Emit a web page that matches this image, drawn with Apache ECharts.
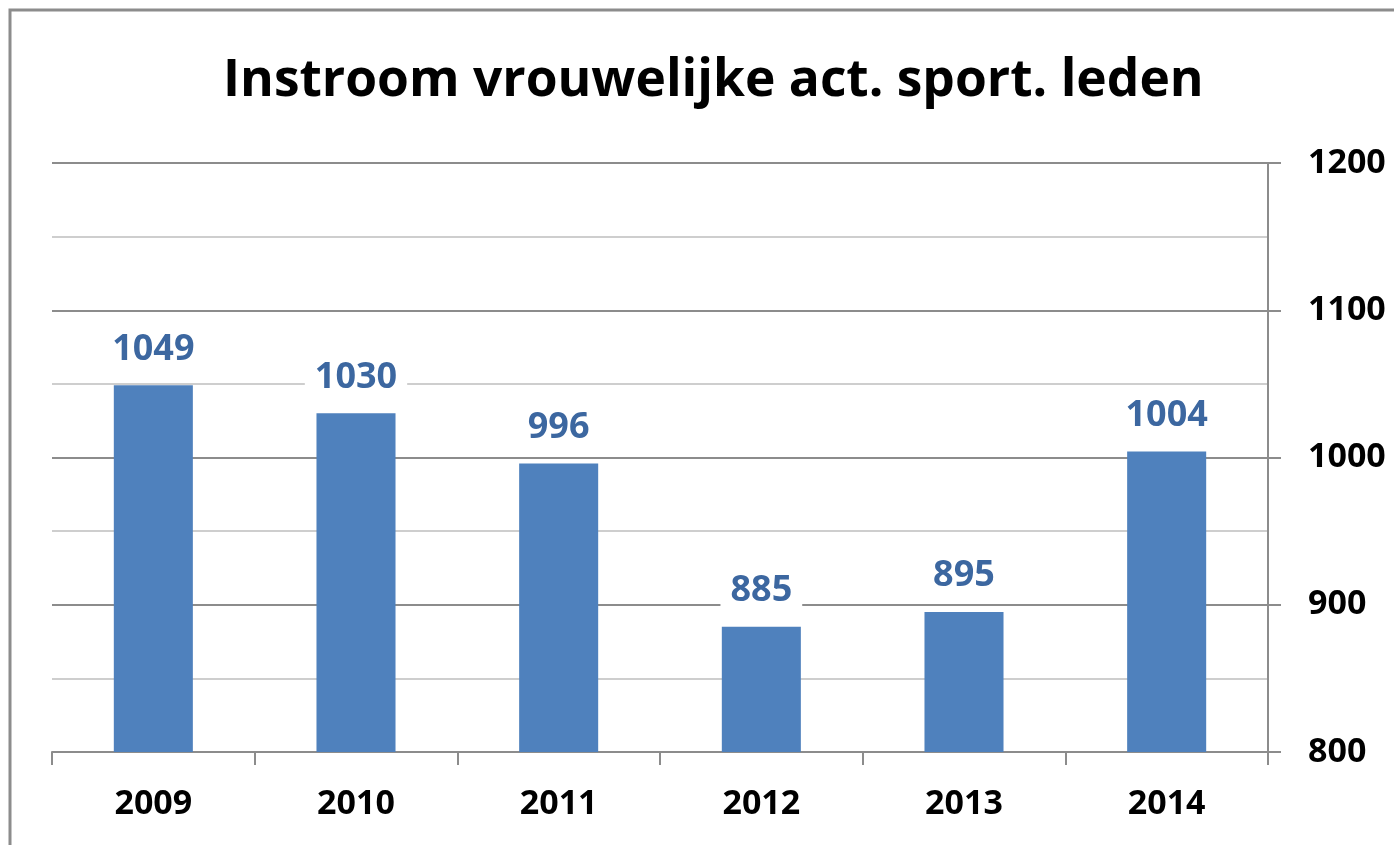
<!DOCTYPE html>
<html>
<head>
<meta charset="utf-8">
<script src="https://cdn.jsdelivr.net/npm/echarts@6/dist/echarts.min.js"></script>
<style>
  html, body { margin: 0; padding: 0; background: #ffffff; }
  #chart { width: 1394px; height: 845px; }
</style>
</head>
<body>
<div id="chart"></div>
<script>
// Instroom vrouwelijke actieve sportende leden, per jaar
const years = ['2009', '2010', '2011', '2012', '2013', '2014'];
const instroom = [1049, 1030, 996, 885, 895, 1004];

const TITLE = 'Instroom vrouwelijke act. sport. leden';
const BAR_BLUE = '#4f81bd';
const LABEL_BLUE = '#3c67a0';
const AXIS_GREY = '#8c8c8c';
const MINOR_GREY = '#bfbfbf';
const FONT = '"Open Sans", "Noto Sans", sans-serif';

const chart = echarts.init(document.getElementById('chart'));

chart.setOption({
  backgroundColor: '#ffffff',
  animation: false,
  title: {
    text: TITLE,
    left: 218,
    top: 50,
    textStyle: { fontFamily: FONT, fontSize: 51.5, fontWeight: 'bold', color: '#000000' }
  },
  graphic: [{
    type: 'rect',
    shape: { x: 10, y: 10, width: 1420, height: 880 },
    style: { fill: 'none', stroke: AXIS_GREY, lineWidth: 3 },
    silent: true
  }],
  grid: { left: 52, right: 126, top: 163, bottom: 93 },
  xAxis: {
    type: 'category',
    data: years,
    axisLine: { lineStyle: { color: AXIS_GREY, width: 2 } },
    axisTick: { show: true, length: 13, lineStyle: { color: AXIS_GREY, width: 2 } },
    axisLabel: { fontFamily: FONT, fontSize: 34, fontWeight: 'bold', color: '#000000', margin: 35 }
  },
  yAxis: {
    type: 'value',
    position: 'right',
    min: 800,
    max: 1200,
    interval: 100,
    axisLine: { show: true, lineStyle: { color: AXIS_GREY, width: 2 } },
    axisTick: { show: true, length: 13, lineStyle: { color: AXIS_GREY, width: 2 } },
    axisLabel: {
      fontFamily: FONT, fontSize: 34, fontWeight: 'bold', color: '#000000', margin: 40,
      formatter: v => String(v)
    },
    splitLine: { show: true, lineStyle: { color: AXIS_GREY, width: 2 } },
    minorTick: { show: false, splitNumber: 2 },
    minorSplitLine: { show: true, lineStyle: { color: MINOR_GREY, width: 1.5 } }
  },
  series: [{
    type: 'bar',
    data: instroom,
    barWidth: '39%',
    itemStyle: { color: BAR_BLUE },
    label: {
      show: true,
      position: 'top',
      distance: 18,
      fontFamily: FONT,
      fontSize: 36,
      fontWeight: 'bold',
      color: LABEL_BLUE,
      backgroundColor: '#ffffff',
      padding: [0, 10]
    }
  }]
});
</script>
</body>
</html>
